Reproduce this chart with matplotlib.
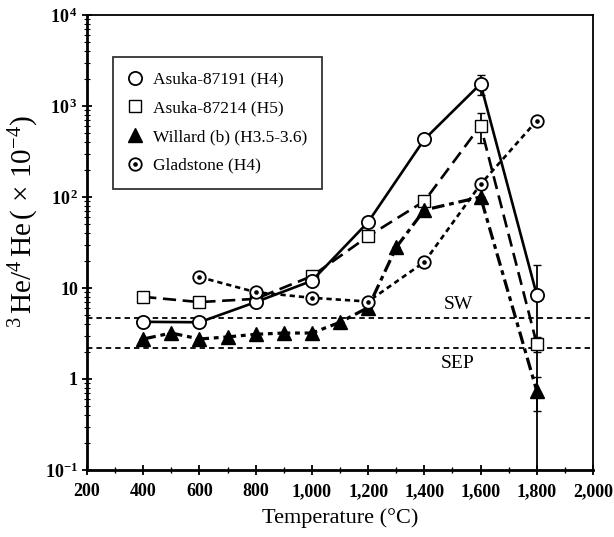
import matplotlib
matplotlib.use('Agg')
import matplotlib.pyplot as plt
from matplotlib.ticker import FixedLocator, FixedFormatter, NullFormatter, LogLocator
import numpy as np

plt.rcParams['font.family'] = ['Liberation Serif', 'DejaVu Serif']
plt.rcParams['mathtext.fontset'] = 'custom'
plt.rcParams['mathtext.rm'] = 'Liberation Serif'
plt.rcParams['mathtext.it'] = 'Liberation Serif:italic'
plt.rcParams['mathtext.bf'] = 'Liberation Serif:bold'

# data
temp_a191 = [400, 600, 800, 1000, 1200, 1400, 1600, 1800]
ratio_a191 = [4.25, 4.2, 7.0, 12.0, 53, 430, 1750, 8.4]
err_a191 = [0, 0, 0, 0, 0, 0, 420, 9.6]

temp_a214 = [400, 600, 800, 1000, 1200, 1400, 1600, 1800]
ratio_a214 = [8.0, 7.0, 7.6, 13.5, 37, 90, 610, 2.43]
err_a214 = [0, 0, 0, 0, 0, 0, 220, 0.45]

temp_will = [400, 500, 600, 700, 800, 900, 1000, 1100, 1200, 1300, 1400, 1600, 1800]
ratio_will = [2.75, 3.2, 2.75, 2.9, 3.1, 3.2, 3.2, 4.2, 6.1, 28, 72, 100, 0.74]
err_will = [0, 0, 0, 0, 0, 0, 0, 0, 0, 0, 0, 0, 0.3]

temp_glad = [600, 800, 1000, 1200, 1400, 1600, 1800]
ratio_glad = [13.2, 9.0, 7.8, 7.1, 19.3, 138, 690]

sw_level = 4.7
sep_level = 2.2

xticks = [200, 400, 600, 800, 1000, 1200, 1400, 1600, 1800, 2000]
xtick_labels = ['200', '400', '600', '800', '1,000', '1,200', '1,400', '1,600', '1,800', '2,000']
yticks = [0.1, 1, 10, 100, 1000, 10000]
ytick_labels = [r'$\mathbf{10^{-1}}$', '1', '10', r'$\mathbf{10^{\,2}}$', r'$\mathbf{10^{\,3}}$', r'$\mathbf{10^{\,4}}$']

fig = plt.figure(figsize=(6.14, 5.37), dpi=100)
ax = fig.add_axes([0.1417, 0.1248, 0.8241, 0.8472])

lw = 1.9
ms = 9.5

ax.axhline(sw_level, color='k', lw=1.3, dashes=(3, 2.2), zorder=1)
ax.axhline(sep_level, color='k', lw=1.3, dashes=(3, 2.2), zorder=1)

# error bars
ax.errorbar(temp_a191, ratio_a191, yerr=err_a191, fmt='none', ecolor='k', elinewidth=1.3, capsize=3, zorder=2)
ax.errorbar(temp_a214, ratio_a214, yerr=err_a214, fmt='none', ecolor='k', elinewidth=1.3, capsize=3, zorder=2)
ax.errorbar(temp_will, ratio_will, yerr=err_will, fmt='none', ecolor='k', elinewidth=1.3, capsize=3, zorder=2)

h1, = ax.plot(temp_a191, ratio_a191, color='k', lw=lw, marker='o', ms=ms,
              mfc='white', mec='k', mew=1.3, zorder=4, label='Asuka-87191 (H4)')
h2, = ax.plot(temp_a214, ratio_a214, color='k', lw=lw, dashes=(5, 2.5), marker='s', ms=ms - 0.5,
              mfc='white', mec='k', mew=1.0, zorder=3, label='Asuka-87214 (H5)')
h3, = ax.plot(temp_will, ratio_will, color='k', lw=lw + 0.4, dashes=(4, 1.5, 1.5, 1.5), marker='^', ms=ms,
              mfc='k', mec='k', zorder=4, label='Willard (b) (H3.5-3.6)')
h4, = ax.plot(temp_glad, ratio_glad, color='k', lw=lw, dashes=(2, 1.5), marker='o', ms=ms - 0.5,
              mfc='white', mec='k', mew=1.3, zorder=5)
h4d, = ax.plot(temp_glad, ratio_glad, ls='none', marker='o', ms=2.3, mfc='k', mec='k', zorder=6)

ax.text(1520, sw_level * 1.12, 'SW', fontsize=14, ha='center', va='bottom')
ax.text(1517, sep_level * 0.83, 'SEP', fontsize=14, ha='center', va='top')

ax.set_yscale('log')
ax.set_xlim(200, 2000)
ax.set_ylim(0.1, 10000)

ax.xaxis.set_major_locator(FixedLocator(xticks))
ax.xaxis.set_major_formatter(FixedFormatter(xtick_labels))
ax.xaxis.set_minor_locator(FixedLocator(np.arange(300, 2000, 200)))
ax.yaxis.set_major_locator(FixedLocator(yticks))
ax.yaxis.set_major_formatter(FixedFormatter(ytick_labels))
ax.yaxis.set_minor_locator(LogLocator(base=10, subs=np.arange(2, 10)))
ax.yaxis.set_minor_formatter(NullFormatter())

ax.tick_params(axis='x', which='major', direction='inout', length=7, width=1.3, labelsize=13, pad=6)
ax.tick_params(axis='x', which='minor', direction='inout', length=5, width=1.0)
ax.tick_params(axis='y', which='major', direction='inout', length=7, width=1.3, labelsize=13, pad=3)
ax.tick_params(axis='y', which='minor', direction='inout', length=4, width=0.8)
for lab in ax.get_xticklabels() + ax.get_yticklabels():
    lab.set_fontweight('bold')

for side in ['left', 'bottom']:
    ax.spines[side].set_linewidth(2.0)
for side in ['top', 'right']:
    ax.spines[side].set_linewidth(1.3)

ax.set_xlabel('Temperature (°C)', fontsize=16, labelpad=6)
ax.set_ylabel(r'$^{3}\,$He/$^{4}\,$He$\,(\,\times\,10^{-4})$', fontsize=21)
ax.yaxis.set_label_coords(-0.09, 0.545)

leg = ax.legend([h1, h2, h3, (h4, h4d)],
                ['Asuka-87191 (H4)', 'Asuka-87214 (H5)', 'Willard (b) (H3.5-3.6)', 'Gladstone (H4)'],
                loc='upper left', bbox_to_anchor=(0.051, 0.908), borderaxespad=0, fontsize=12.5,
                frameon=True, fancybox=False, edgecolor='k', handlelength=0.9, handletextpad=0.55,
                labelspacing=0.72, borderpad=0.85, markerscale=1.0)
leg.get_frame().set_linewidth(1.3)
for line in leg.get_lines():
    line.set_linestyle('none')

fig.savefig('out.png', dpi=100)
